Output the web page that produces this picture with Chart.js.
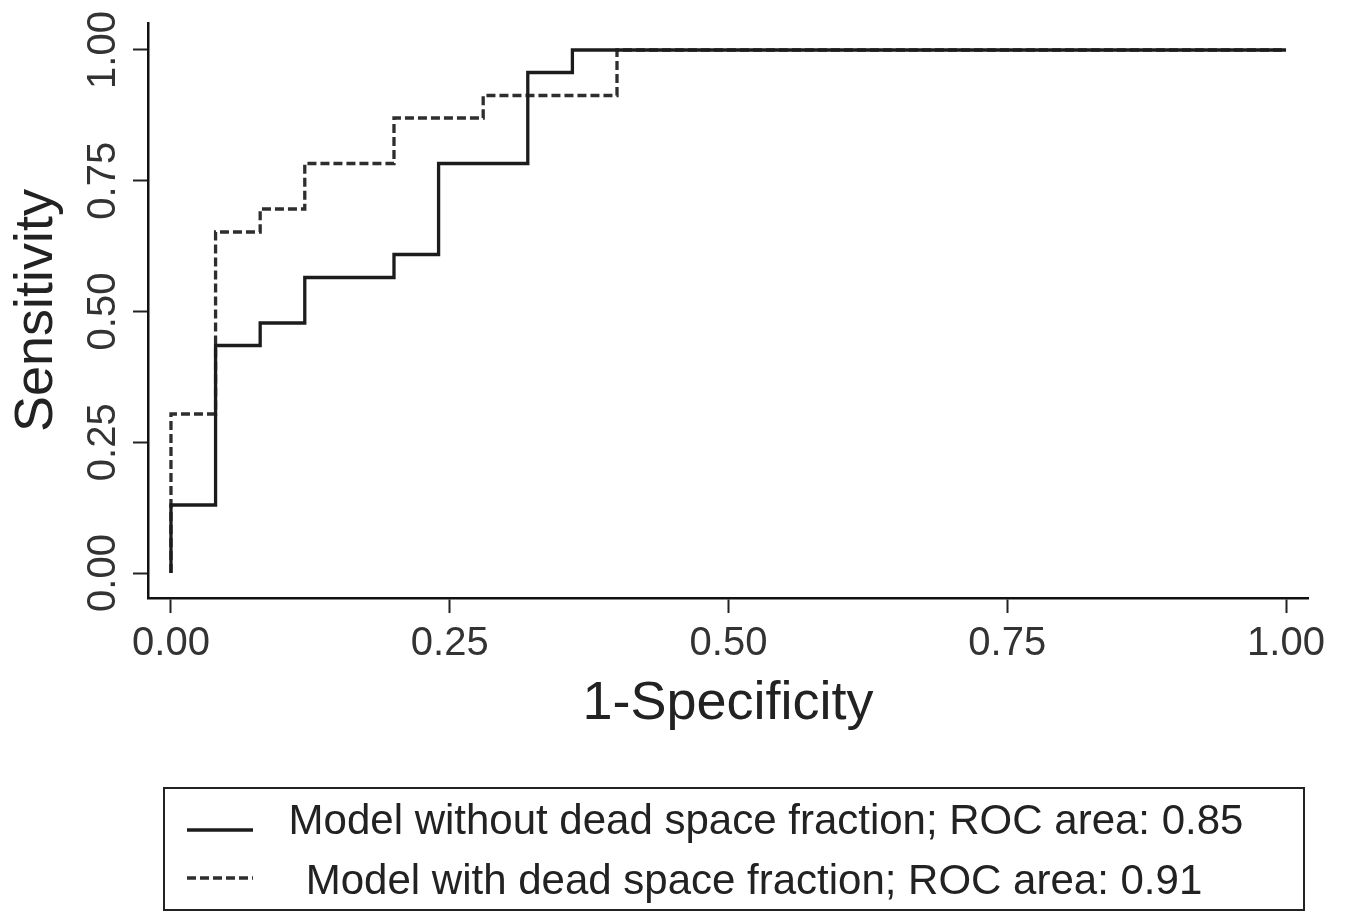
<!DOCTYPE html>
<html>
<head>
<meta charset="utf-8">
<script src="https://cdn.jsdelivr.net/npm/chart.js@4/dist/chart.umd.min.js"></script>
<style>
  body { margin: 0; background: #fff; }
  canvas { display: block; }
</style>
</head>
<body>
<canvas id="canvas" width="1347" height="914"></canvas>
<script>
// ROC points (1-specificity, sensitivity)
const fprWithout = [0, 0, 0.04, 0.08, 0.12, 0.20, 0.24, 0.32, 0.36, 1.00];
const tprWithout = [0, 0.13, 0.435, 0.478, 0.565, 0.609, 0.783, 0.957, 1.00, 1.00];
const fprWith = [0, 0, 0.04, 0.08, 0.12, 0.20, 0.28, 0.40, 1.00];
const tprWith = [0, 0.304, 0.652, 0.696, 0.783, 0.870, 0.913, 1.00, 1.00];

const seriesLabels = [
    'Model without dead space fraction; ROC area: 0.85',
    'Model with dead space fraction; ROC area: 0.91'
];
const xTicks = [0, 0.25, 0.5, 0.75, 1];
const yTicks = [0, 0.25, 0.5, 0.75, 1];

const FONT = "'Liberation Sans', Arial, sans-serif";

function toPoints(xs, ys){
    return xs.map((x, i) => ({x: x, y: ys[i]}));
}

// stata-like boxed legend under the plot
const boxLegend = {
    id: 'boxLegend',
    afterDraw(chart, args, opts){
        const ctx = chart.ctx;
        ctx.save();
        ctx.strokeStyle = '#222';
        ctx.lineWidth = 2;
        ctx.strokeRect(opts.left, opts.top, opts.width, opts.height);
        ctx.font = opts.fontSize + 'px ' + FONT;
        ctx.fillStyle = '#222';
        ctx.textAlign = 'center';
        ctx.textBaseline = 'middle';
        chart.data.datasets.forEach((ds, i) => {
            const row = opts.rows[i];
            ctx.beginPath();
            ctx.lineWidth = ds.borderWidth;
            ctx.strokeStyle = ds.borderColor;
            ctx.setLineDash(ds.borderDash || []);
            ctx.moveTo(opts.keyX1, row.keyY);
            ctx.lineTo(opts.keyX2, row.keyY);
            ctx.stroke();
            ctx.setLineDash([]);
            ctx.fillText(ds.label, row.textX, row.textY);
        });
        ctx.restore();
    }
};

const ctx = document.getElementById('canvas').getContext('2d');

const myChart = new Chart(ctx, {
    type: 'scatter',
    data: {
        datasets: [{
            label: seriesLabels[0],
            data: toPoints(fprWithout, tprWithout),
            showLine: true,
            stepped: 'before',
            borderColor: '#1c1c1c',
            borderWidth: 3.3,
            pointRadius: 0,
            fill: false
        },
        {
            label: seriesLabels[1],
            data: toPoints(fprWith, tprWith),
            showLine: true,
            stepped: 'before',
            borderColor: '#2e2e2e',
            borderWidth: 3.3,
            borderDash: [9, 4],
            pointRadius: 0,
            fill: false
        }]
    },
    options: {
        responsive: false,
        animation: false,
        layout: {
            padding: {top: 23, right: 39, bottom: 183, left: 0}
        },
        plugins: {
            legend: {display: false},
            tooltip: {enabled: false},
            boxLegend: {
                left: 164, top: 788, width: 1140, height: 122,
                keyX1: 187, keyX2: 253, fontSize: 42,
                rows: [
                    {keyY: 830, textX: 766, textY: 822},
                    {keyY: 878, textX: 754, textY: 882}
                ]
            }
        },
        scales: {
            x: {
                type: 'linear',
                min: -0.0206,
                max: 1.0197,
                afterBuildTicks: (scale) => { scale.ticks = xTicks.map(v => ({value: v})); },
                afterFit: (scale) => { scale.height = 133; },
                grid: {
                    drawOnChartArea: false,
                    drawTicks: true,
                    tickLength: 15,
                    tickWidth: 2,
                    tickColor: '#222'
                },
                border: {display: true, color: '#111', width: 2.5},
                ticks: {
                    padding: 7,
                    color: '#333',
                    font: {family: FONT, size: 40},
                    callback: (v) => Number(v).toFixed(2)
                },
                title: {
                    display: true,
                    text: '1-Specificity',
                    color: '#222',
                    font: {family: FONT, size: 54, lineHeight: 1},
                    padding: {top: 0, bottom: 0}
                }
            },
            y: {
                type: 'linear',
                min: -0.0478,
                max: 1.0516,
                afterBuildTicks: (scale) => { scale.ticks = yTicks.map(v => ({value: v})); },
                afterFit: (scale) => { scale.width = 148; },
                grid: {
                    drawOnChartArea: false,
                    drawTicks: true,
                    tickLength: 15,
                    tickWidth: 2,
                    tickColor: '#222'
                },
                border: {display: true, color: '#111', width: 2.5},
                ticks: {
                    minRotation: 90,
                    maxRotation: 90,
                    crossAlign: 'center',
                    padding: -10,
                    color: '#333',
                    font: {family: FONT, size: 40},
                    callback: (v) => Number(v).toFixed(2)
                },
                title: {
                    display: true,
                    text: 'Sensitivity',
                    color: '#222',
                    font: {family: FONT, size: 54, lineHeight: 1},
                    padding: {top: 10, bottom: 0}
                }
            }
        }
    },
    plugins: [boxLegend]
});
</script>
</body>
</html>
